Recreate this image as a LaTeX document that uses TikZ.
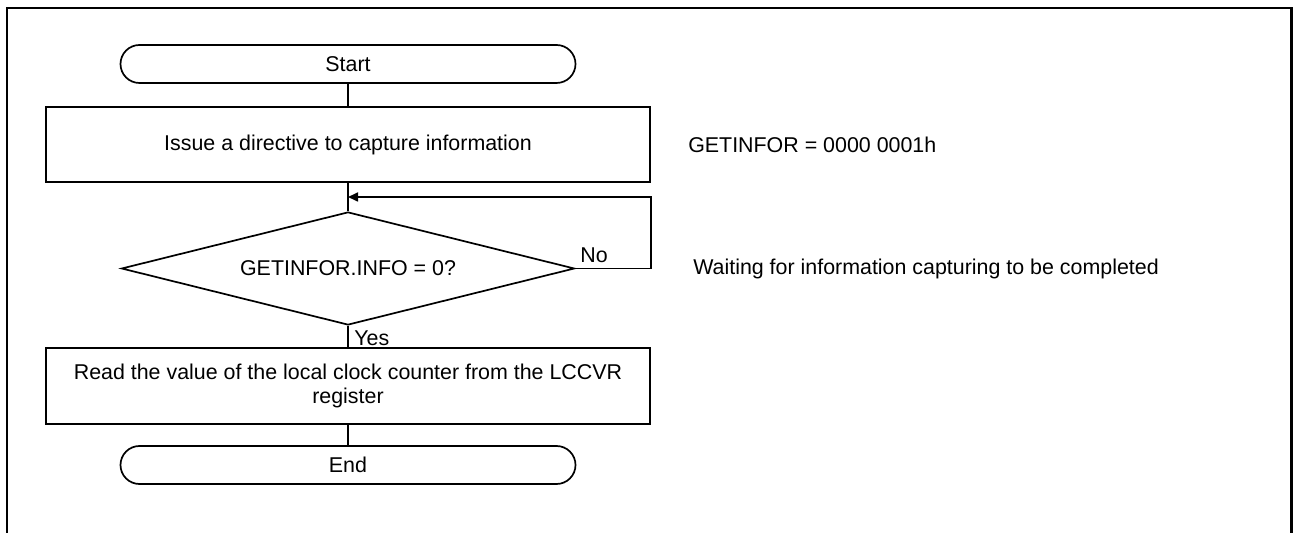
\documentclass[tikz,border=0pt]{standalone}
\usepackage{fontspec}
\setmainfont{Liberation Sans}
\usetikzlibrary{shapes.geometric, arrows.meta, positioning}

\tikzset{
  terminal/.style={draw, line width=0.85pt, rounded corners=9.5pt,
    minimum width=227.5pt, minimum height=19pt, inner sep=0pt},
  process/.style={draw, line width=0.85pt, minimum width=302pt,
    minimum height=37.5pt, inner sep=0pt, align=center},
  decision/.style={draw, line width=0.85pt, diamond, aspect=4,
    minimum width=226.5pt, minimum height=56.5pt, inner sep=0pt},
  flow/.style={line width=0.85pt},
  note/.style={inner sep=0pt, anchor=west}
}

\begin{document}
\begin{tikzpicture}[x=0.5pt, y=-0.5pt, font=\fontsize{10.7}{12}\selectfont]
\useasboundingbox (0,0) rectangle (1293,533);
% frame, open at the bottom
\draw[line width=1.35pt] (7,533) -- (7,8) -- (1291.5,8) -- (1291.5,533);

% flow
\node[terminal] (start) at (348,64) {Start};
\node[process] (issue) at (348,144.5) {Issue a directive to capture information};
\node[decision] (wait) at (348,268.5) {GETINFOR.INFO = 0?};
\node[process, minimum height=38pt] (read) at (348,386)
  {Read the value of the local clock counter from the LCCVR\\register};
\node[terminal] (end) at (348,465) {End};

\coordinate (merge) at (348,197);
\coordinate (loop) at (wait.east -| issue.east);

\draw[flow] (start) -- (issue);
\draw[flow] (issue) -- (wait);
\draw[flow] (wait) -- (read);
\draw[flow] (read) -- (end);
\draw[flow, -{Triangle[length=5pt, width=4.5pt]}] (wait.east) -- (loop) |- (merge);

\node[inner sep=0pt, anchor=base west] (no) at (580,263) {No};
\node[inner sep=0pt, anchor=north west] (yes) at (354,330.5) {Yes};

% notes
\node[note, right=18.5pt of issue] (cmd) {GETINFOR = 0000 0001h};
\node[note, right=21pt of loop] (waitnote) {Waiting for information capturing to be completed};
\end{tikzpicture}
\end{document}
